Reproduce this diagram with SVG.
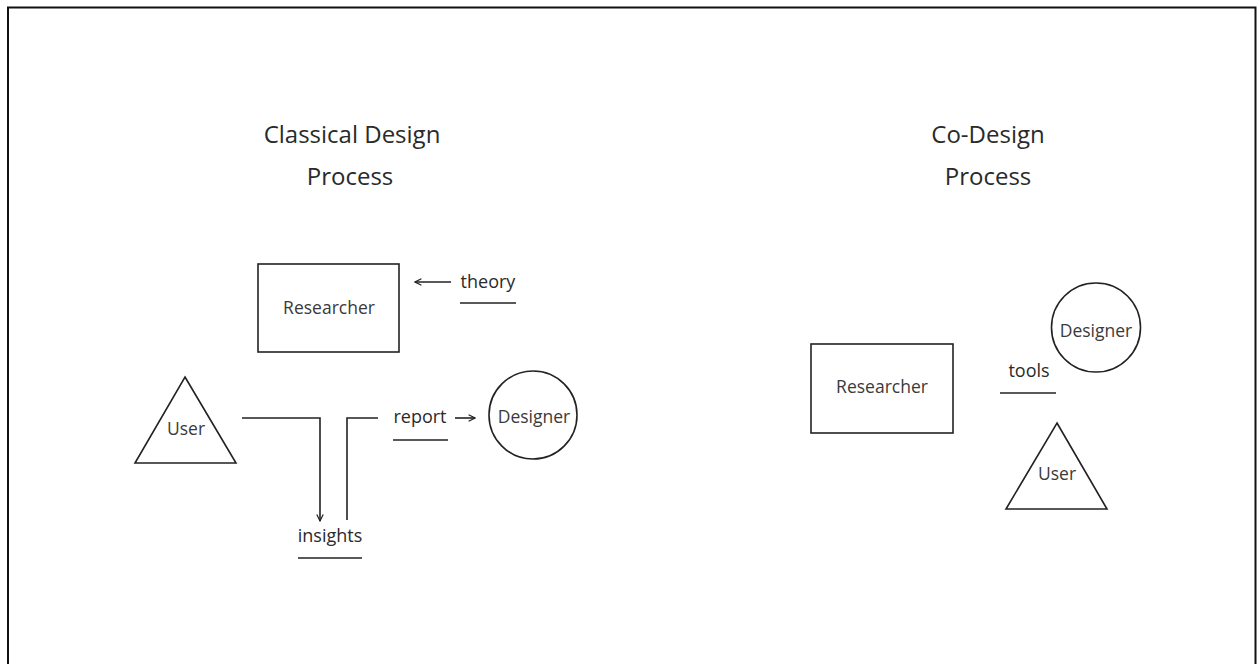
<svg xmlns="http://www.w3.org/2000/svg" width="1257" height="664" viewBox="0 0 1257 664">
<style>
text{font-family:"Open Sans","Noto Sans","Liberation Sans",sans-serif;fill:#2a2a2a;text-anchor:middle}
.t{font-size:24px}
.n{font-size:17.5px;fill:#3a3a3a}
.l{font-size:18px}
.s{fill:none;stroke:#222;stroke-width:1.6}
</style>
<defs>
<marker id="ah" viewBox="0 0 10 10" refX="9" refY="5" markerWidth="8" markerHeight="8" markerUnits="userSpaceOnUse" orient="auto">
<path d="M1,1 L9,5 L1,9" fill="none" stroke="#222" stroke-width="1.5"/>
</marker>
</defs>
<rect x="0" y="0" width="1257" height="664" fill="#fff"/>
<path d="M8,680 V7.5 H1255.5 V680" fill="none" stroke="#111" stroke-width="2"/>
<g id="titles">
<text class="t" x="352" y="143">Classical Design</text>
<text class="t" x="350" y="185">Process</text>
<text class="t" x="988" y="143">Co-Design</text>
<text class="t" x="988" y="185">Process</text>
</g>
<g id="researcher1"><rect class="s" x="258" y="264" width="141" height="88"/><text class="n" x="329" y="313.5">Researcher</text></g>
<g id="user1"><polygon class="s" points="185,377 236,463 135,463"/><text class="n" x="186" y="435">User</text></g>
<g id="designer1"><circle class="s" cx="533" cy="415" r="44"/><text class="n" x="534" y="423">Designer</text></g>
<g id="theory"><text class="l" x="488" y="288">theory</text><line class="s" x1="460" y1="303" x2="516" y2="303"/></g>
<g id="report"><text class="l" x="420" y="423">report</text><line class="s" x1="393" y1="440" x2="448" y2="440"/></g>
<g id="insights"><text class="l" x="330" y="541.5">insights</text><line class="s" x1="298" y1="558" x2="362" y2="558"/></g>
<g id="connectors">
<line class="s" x1="451" y1="282" x2="415" y2="282" marker-end="url(#ah)"/>
<line class="s" x1="455" y1="418" x2="475" y2="418" marker-end="url(#ah)"/>
<path class="s" d="M242,418 H320 V521" marker-end="url(#ah)"/>
<path class="s" d="M347,520 V418 H378"/>
</g>
<g id="researcher2"><rect class="s" x="811" y="344" width="142" height="89"/><text class="n" x="882" y="393">Researcher</text></g>
<g id="designer2"><circle class="s" cx="1096" cy="327.5" r="44.5"/><text class="n" x="1096" y="337">Designer</text></g>
<g id="user2"><polygon class="s" points="1057,423 1107,509 1006,509"/><text class="n" x="1057" y="480">User</text></g>
<g id="tools"><text class="l" x="1029" y="377">tools</text><line class="s" x1="1000" y1="393" x2="1056" y2="393"/></g>
</svg>
